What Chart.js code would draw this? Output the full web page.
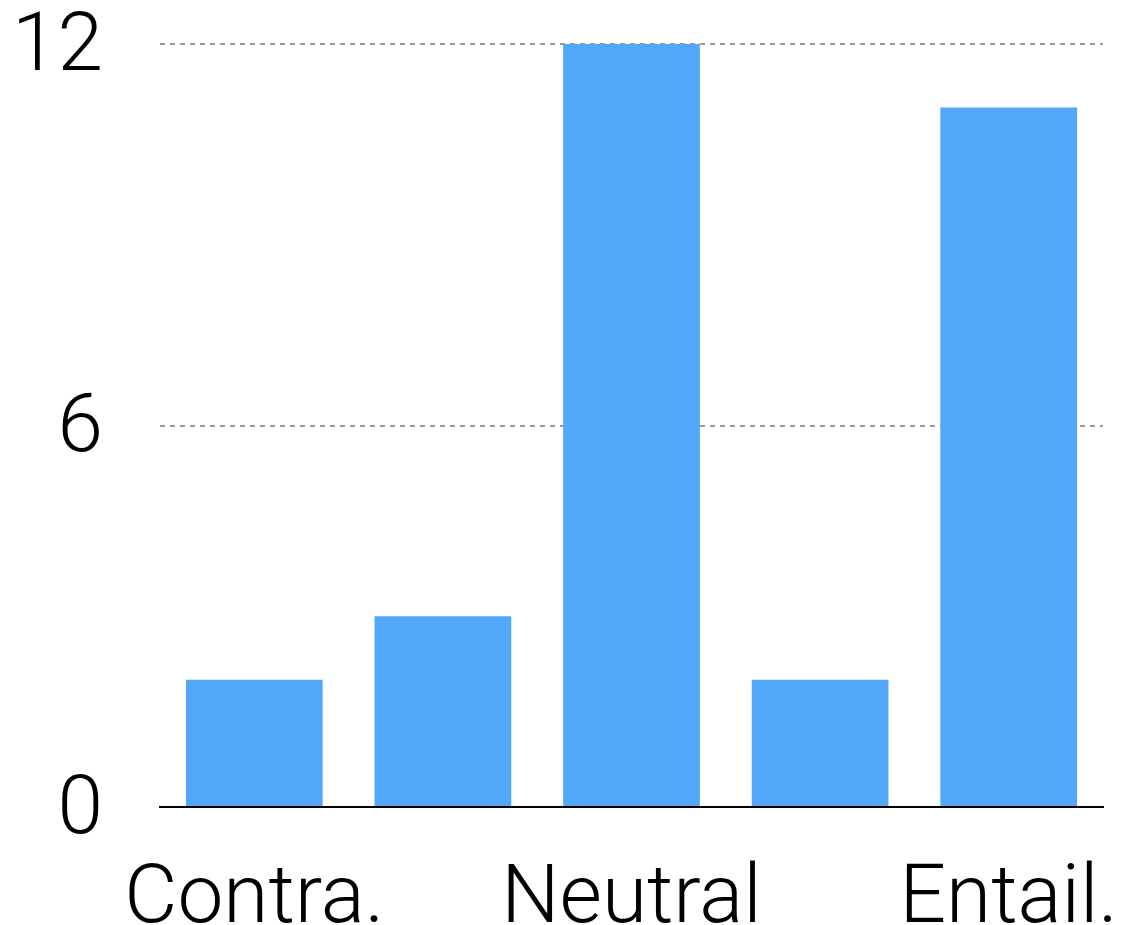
<!DOCTYPE html>
<html>
<head>
<meta charset="utf-8">
<title>Label counts</title>
<script src="https://cdn.jsdelivr.net/npm/chart.js@4"></script>
<style>
  html, body { margin: 0; padding: 0; background: #fff; }
  #wrap { width: 1121px; height: 925px; }
</style>
</head>
<body>
<div id="wrap"><canvas id="labelChart" width="1121" height="925"></canvas></div>
<script>
// counts per class, only every other category gets a name under the axis
const categories = ['Contra.', '', 'Neutral', '', 'Entail.'];
const counts = [2, 3, 12, 2, 11];
const yTicks = [0, 6, 12];

const barColor = 'rgb(82, 167, 250)';
const labelFont = { family: 'Roboto, "Liberation Sans", sans-serif', size: 82, weight: '300', lineHeight: 1 };

new Chart(document.getElementById('labelChart'), {
  type: 'bar',
  data: {
    labels: categories,
    datasets: [
      {
        data: counts,
        backgroundColor: barColor,
        borderWidth: 0,
        categoryPercentage: 1,
        barPercentage: 0.725
      }
    ]
  },
  options: {
    responsive: false,
    animation: false,
    layout: { padding: { top: 44, right: 18, left: 0, bottom: 0 } },
    plugins: { legend: { display: false }, tooltip: { enabled: false } },
    scales: {
      x: {
        grid: { display: false, drawTicks: false },
        border: { display: true, color: '#000', width: 2 },
        ticks: { color: '#000', font: labelFont, padding: 53, maxRotation: 0, autoSkip: false },
        afterFit: (scale) => {
          scale.height = 118;
          scale.paddingLeft = 0;
          scale.paddingRight = 0;
        }
      },
      y: {
        min: 0,
        max: 12,
        afterBuildTicks: (scale) => {
          scale.ticks = yTicks.map((v) => ({ value: v }));
        },
        grid: {
          drawTicks: false,
          lineWidth: 2,
          color: (ctx) => (ctx.tick && ctx.tick.value === 0 ? 'rgba(0,0,0,0)' : '#9a9a9a')
        },
        border: { display: false, dash: [5, 5] },
        ticks: { color: '#000', font: labelFont, padding: 57, labelOffset: 5 },
        afterFit: (scale) => {
          scale.width = 160;
          scale.paddingTop = 0;
          scale.paddingBottom = 0;
        }
      }
    }
  }
});
</script>
</body>
</html>
